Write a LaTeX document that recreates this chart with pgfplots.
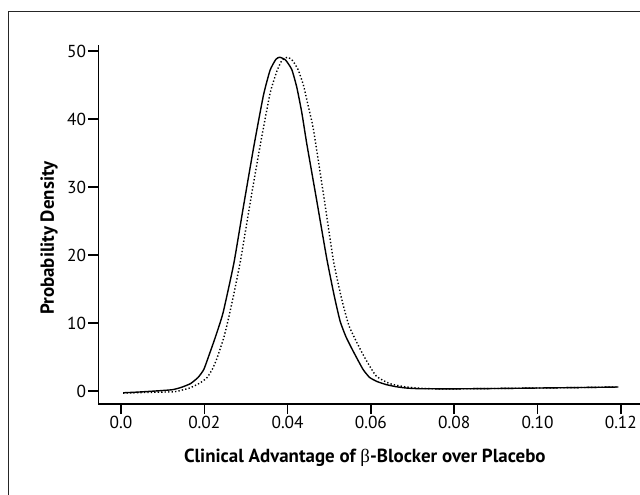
\documentclass[border=0pt]{standalone}
\usepackage{fontspec}
\setmainfont{PT Sans}
\newfontfamily\grk{Liberation Serif}
\usepackage{pgfplots}
\pgfplotsset{compat=1.18}

\pgfplotstableread{
x y
0.0005 -0.25
0.0040 -0.15
0.0080 0.00
0.0123 0.20
0.0145 0.55
0.0167 1.10
0.0185 2.00
0.0199 3.20
0.0215 5.90
0.0227 8.00
0.0245 11.5
0.0271 18.8
0.0295 27.5
0.0319 36.0
0.0342 43.5
0.0358 47.2
0.0372 48.8
0.0381 49.1
0.0395 48.7
0.0410 47.3
0.0422 44.7
0.0434 41.0
0.0446 36.4
0.0470 28.0
0.0494 19.5
0.0512 14.0
0.0526 10.3
0.0540 8.00
0.0558 5.80
0.0581 3.20
0.0597 2.00
0.0615 1.40
0.0637 0.95
0.0660 0.65
0.0685 0.45
0.0717 0.35
0.0800 0.33
0.0900 0.38
0.1000 0.45
0.1100 0.52
0.1194 0.60
}\solid

\pgfplotstableread{
x y
0.0005 -0.30
0.0060 -0.20
0.0127 -0.10
0.0150 0.20
0.0167 0.50
0.0190 1.20
0.0207 2.00
0.0220 3.30
0.0231 4.90
0.0247 7.90
0.0256 10.1
0.0270 14.0
0.0287 19.2
0.0311 28.0
0.0335 36.4
0.0358 43.8
0.0374 47.0
0.0386 48.6
0.0400 49.1
0.0412 48.6
0.0425 47.3
0.0438 45.0
0.0450 41.8
0.0462 38.5
0.0486 29.0
0.0510 19.2
0.0530 13.5
0.0548 9.50
0.0574 6.20
0.0590 4.40
0.0613 2.20
0.0645 1.10
0.0685 0.60
0.0741 0.35
0.0800 0.33
0.0900 0.38
0.1000 0.45
0.1100 0.52
0.1194 0.60
}\dotted

\begin{document}
\begin{tikzpicture}
\useasboundingbox (0,0) rectangle (480pt,370.5pt);
% cropped frame round the figure
\draw[line width=0.8pt, black!85] (6.2pt,-2pt) -- (6.2pt,361.7pt) -- (482pt,361.7pt);

\begin{axis}[
    at={(73.7pt,67.5pt)}, anchor=south west,
    scale only axis,
    width=406.3pt, height=269.25pt,
    xmin=-0.00545, xmax=0.1246,
    ymin=-1.9, ymax=50.9,
    axis lines=left,
    axis line style={-, line width=1.1pt},
    tick align=outside,
    major tick length=7.5pt,
    tick style={line width=1.1pt, black},
    xtick={0,0.02,0.04,0.06,0.08,0.10,0.12},
    xticklabels={0.0,0.02,0.04,0.06,0.08,0.10,0.12},
    ytick={0,10,20,30,40,50},
    /pgf/number format/assume math mode=true,
    ticklabel style={font=\fontsize{13}{15}\selectfont},
    xticklabel style={inner sep=1.5pt},
    yticklabel style={inner xsep=1.5pt},
    xlabel={Clinical Advantage of {\grk\mdseries β}-Blocker over Placebo},
    ylabel={Probability Density},
    label style={font=\fontsize{14.2}{17}\selectfont\bfseries},
    xlabel style={at={(axis description cs:0.492,-0.1616)}, anchor=base},
    ylabel style={at={(axis description cs:-0.082,0.462)}, anchor=base},
    clip=false,
]
\addplot[black, line width=1.05pt, smooth, tension=0.3] table[x=x, y=y] {\solid};
\addplot[black, line width=1.05pt, dash pattern=on 1pt off 1.6pt, smooth, tension=0.3] table[x=x, y=y] {\dotted};
\end{axis}
\end{tikzpicture}
\end{document}
